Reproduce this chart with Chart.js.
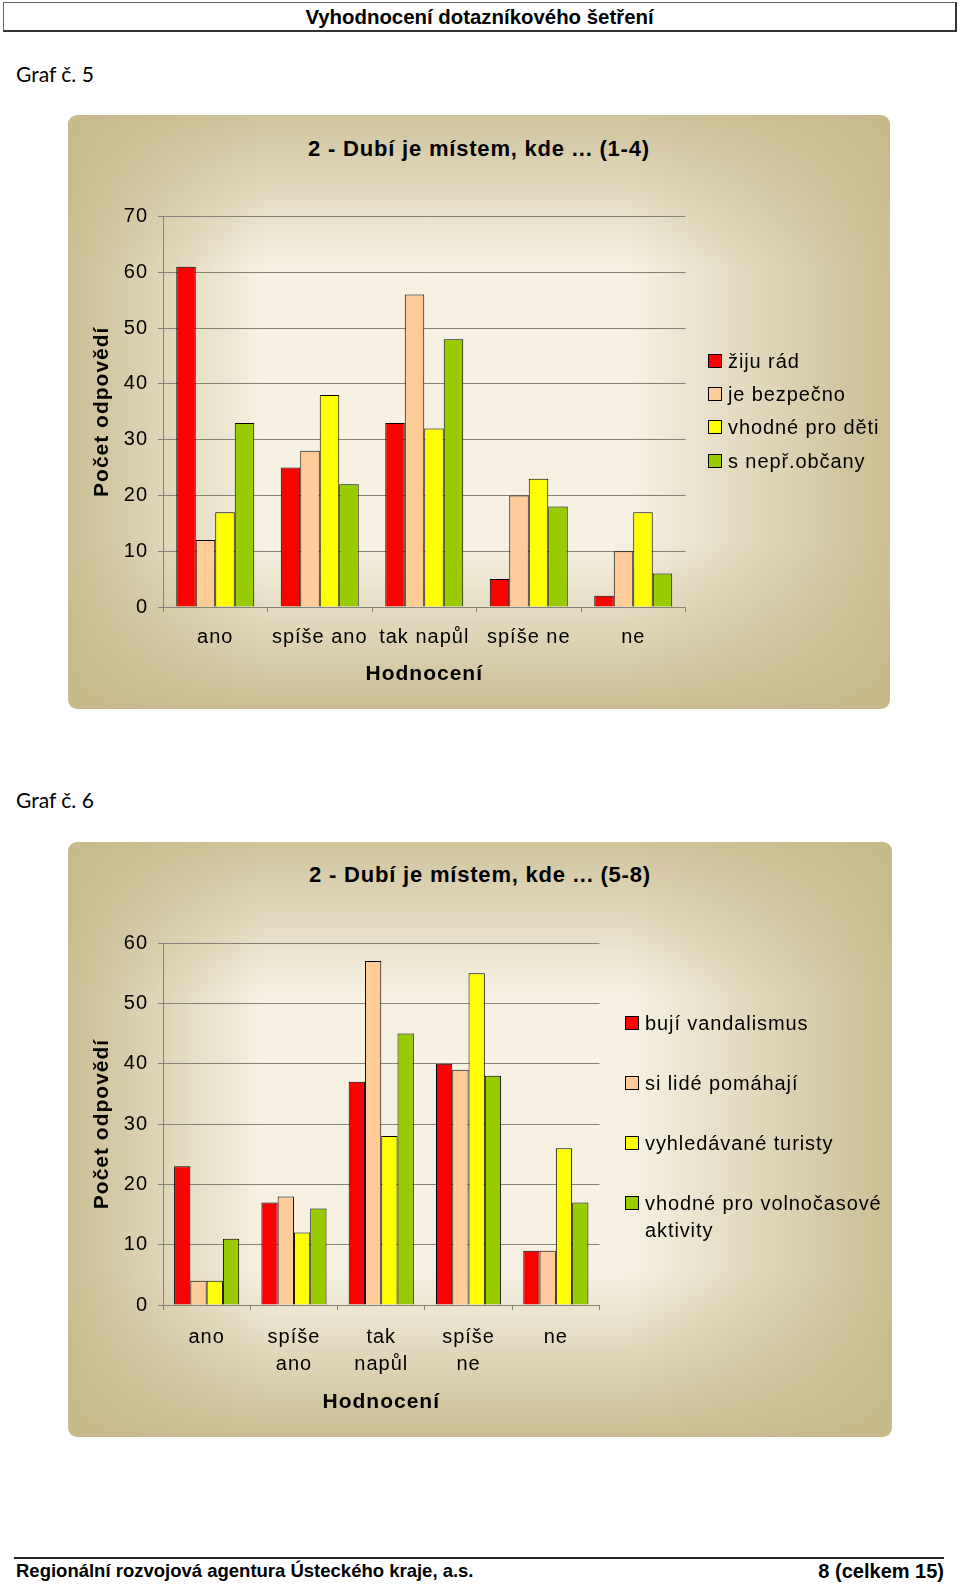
<!DOCTYPE html>
<html>
<head>
<meta charset="utf-8">
<script src="https://cdn.jsdelivr.net/npm/chart.js@4.4.1/dist/chart.umd.min.js"></script>
<style>
  body { margin: 0; width: 960px; height: 1586px; position: relative; background: #fff; overflow: hidden;
         font-family: "Liberation Sans", Arial, sans-serif; color: #000; }
  .hdr { position: absolute; left: 3px; top: 2px; width: 951px; height: 27px; border: 1px solid #666;
         border-right: 2px solid #333; border-bottom: 2px solid #333; text-align: center;
         font: bold 20.4px "Liberation Sans", Arial, sans-serif; line-height: 29px; }
  .graf { position: absolute; left: 16px; font: 21px Lato, "Open Sans", sans-serif; line-height: 24px; }
  .box { position: absolute; border-radius: 9px;
         background:
           linear-gradient(to right, rgba(198,184,138,0.9) 0%, rgba(198,184,138,0) 24%, rgba(198,184,138,0) 68%, rgba(198,184,138,0.9) 100%),
           linear-gradient(to bottom, rgba(198,184,138,0.8) 0%, rgba(198,184,138,0) 26%, rgba(198,184,138,0) 72%, rgba(198,184,138,0.9) 100%),
           #f6f1e3; }
  .box canvas { position: absolute; left: 0; top: 0; }
  .title { position: absolute; left: 0; right: 0; text-align: center; font: bold 22px "Liberation Sans", Arial, sans-serif;
           letter-spacing: 0.8px; line-height: 26px; }
  .leg { position: absolute; font-size: 20px; letter-spacing: 0.9px; line-height: 27px; }
  .leg i { position: absolute; left: 0; width: 12px; height: 12px; border: 1px solid #000; }
  .leg span { position: absolute; white-space: normal; }
  .foot { position: absolute; top: 1557px; left: 14px; width: 930px; border-top: 2px solid #222; }
  .ft { position: absolute; top: 1559px; font: bold 18.5px "Liberation Sans", Arial, sans-serif; line-height: 24px; }
</style>
</head>
<body>
<div class="hdr">Vyhodnocení dotazníkového šetření</div>

<div class="graf" style="top:62px">Graf č. 5</div>
<div class="box" id="box1" style="left:68px; top:115px; width:822px; height:594px;">
  <div class="title" style="top:21px">2 - Dubí je místem, kde ... (1-4)</div>
  <canvas id="chart1" width="822" height="594"></canvas>
</div>

<div class="graf" style="top:788px">Graf č. 6</div>
<div class="box" id="box2" style="left:68px; top:842px; width:824px; height:595px;">
  <div class="title" style="top:20px">2 - Dubí je místem, kde ... (5-8)</div>
  <canvas id="chart2" width="824" height="595"></canvas>
</div>

<div class="foot"></div>
<div class="ft" style="left:16px">Regionální rozvojová agentura Ústeckého kraje, a.s.</div>
<div class="ft" style="right:16px; font-size:20px">8 (celkem 15)</div>

<script>
// kategorie na ose x
const categories1 = ['ano', 'spíše ano', 'tak napůl', 'spíše ne', 'ne'];
const categories2 = ['ano', ['spíše', 'ano'], ['tak', 'napůl'], ['spíše', 'ne'], 'ne'];

// Graf č. 5
const series1 = ['žiju rád', 'je bezpečno', 'vhodné pro děti', 's nepř.občany'];
const zijuRad = [61, 25, 33, 5, 2];
const jeBezpecno = [12, 28, 56, 20, 10];
const vhodneProDeti = [17, 38, 32, 23, 17];
const sNeprObcany = [33, 22, 48, 18, 6];

// Graf č. 6
const series2 = ['bují vandalismus', 'si lidé pomáhají', 'vyhledávané turisty', 'vhodné pro volnočasové aktivity'];
const bujiVandalismus = [23, 17, 37, 40, 9];
const siLidePomahaji = [4, 18, 57, 39, 9];
const vyhledavaneTuristy = [4, 12, 28, 55, 26];
const volnocasoveAktivity = [11, 16, 45, 38, 17];

const yTicks1 = [0, 10, 20, 30, 40, 50, 60, 70];
const yTicks2 = [0, 10, 20, 30, 40, 50, 60];

const colors = ['#ff0000', '#ffcc99', '#ffff00', '#99cc00'];
const gridColor = '#858375';

Chart.defaults.font.family = "'Liberation Sans', Arial, sans-serif";
Chart.defaults.color = '#000';

// mezery mezi písmeny jako v originálu
const letterSpacing = {
    id: 'letterSpacing',
    beforeDraw(chart) {
        chart.ctx.letterSpacing = '1px';
    }
};

function buildChart(canvasId, labels, names, values, yTicks, opts) {
    const ctx = document.getElementById(canvasId).getContext('2d');
    return new Chart(ctx, {
        type: 'bar',
        data: {
            labels: labels,
            datasets: names.map((name, i) => ({
                label: name,
                data: values[i],
                backgroundColor: colors[i],
                borderColor: '#000',
                borderWidth: 1,
                categoryPercentage: 0.746,
                barPercentage: 1
            }))
        },
        options: {
            responsive: false,
            animation: false,
            events: [],
            layout: { padding: { top: opts.top, right: opts.right, left: 0, bottom: 0 } },
            plugins: {
                legend: { display: false },
                title: { display: false },
                tooltip: { enabled: false }
            },
            scales: {
                x: {
                    grid: { drawOnChartArea: false, color: gridColor, tickLength: 5 },
                    border: { color: gridColor },
                    ticks: { font: { size: 20, lineHeight: 1.35 }, padding: opts.labelPad, maxRotation: 0, autoSkip: false },
                    title: {
                        display: true, text: 'Hodnocení',
                        font: { size: 21, weight: 'bold' },
                        padding: { top: 0, bottom: 22 }
                    },
                    afterFit(scale) { scale.height = opts.xHeight; }
                },
                y: {
                    min: yTicks[0],
                    max: yTicks[yTicks.length - 1],
                    afterBuildTicks(scale) { scale.ticks = yTicks.map(v => ({ value: v })); },
                    grid: { color: gridColor, tickLength: 5 },
                    border: { color: gridColor },
                    ticks: { font: { size: 20 }, padding: 10 },
                    title: {
                        display: true, text: 'Počet odpovědí',
                        font: { size: 21, weight: 'bold' },
                        padding: { top: 22, bottom: 0 }
                    },
                    afterFit(scale) { scale.width = 95; }
                }
            }
        },
        plugins: [letterSpacing]
    });
}

function buildLegend(boxId, names, left, rows, textWidth) {
    const box = document.getElementById(boxId);
    const leg = document.createElement('div');
    leg.className = 'leg';
    leg.style.left = left + 'px';
    leg.style.top = '0px';
    names.forEach((name, i) => {
        const sq = document.createElement('i');
        sq.style.top = (rows[i] - 7) + 'px';
        sq.style.background = colors[i];
        const txt = document.createElement('span');
        txt.textContent = name;
        txt.style.left = '20px';
        txt.style.top = (rows[i] - 13.5) + 'px';
        txt.style.width = textWidth + 'px';
        leg.appendChild(sq);
        leg.appendChild(txt);
    });
    box.appendChild(leg);
}

buildChart('chart1', categories1, series1, [zijuRad, jeBezpecno, vhodneProDeti, sNeprObcany], yTicks1,
    { top: 101.5, right: 204.5, xHeight: 102, labelPad: 11.5 });
buildChart('chart2', categories2, series2, [bujiVandalismus, siLidePomahaji, vyhledavaneTuristy, volnocasoveAktivity], yTicks2,
    { top: 101, right: 292.5, xHeight: 132, labelPad: 13.5 });

buildLegend('box1', series1, 640, [246, 279, 312, 346], 170);
buildLegend('box2', series2, 557, [181, 241, 301, 361], 245);
</script>
</body>
</html>
